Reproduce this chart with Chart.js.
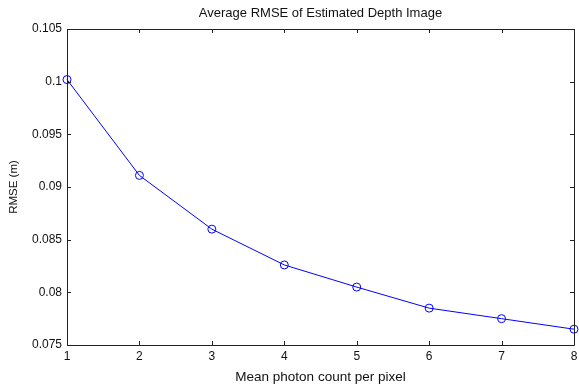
<!DOCTYPE html>
<html><head><meta charset="utf-8">
<script src="https://cdn.jsdelivr.net/npm/chart.js@4.4.1/dist/chart.umd.min.js"></script>
<style>html,body{margin:0;padding:0;background:#fff}#wrap{width:579px;height:385px}</style>
</head><body><div id="wrap"><canvas id="c" width="579" height="385"></canvas></div>
<script>
const photonCounts = [1, 2, 3, 4, 5, 6, 7, 8];
const rmseValues = [0.1002, 0.0911, 0.0860, 0.0826, 0.0805, 0.0785, 0.0775, 0.0765];
const yTickValues = [0.075, 0.08, 0.085, 0.09, 0.095, 0.1, 0.105];
const xTickValues = [1, 2, 3, 4, 5, 6, 7, 8];
const chartTitle = 'Average RMSE of Estimated Depth Image';
const xLabel = 'Mean photon count per pixel';
const yLabel = 'RMSE (m)';

const FONT = 'Liberation Sans, Arial, Helvetica, sans-serif';

const boxPlugin = {
  id: 'matlabBox',
  afterDatasetsDraw(chart) {
    const {ctx, chartArea: a, scales} = chart;
    ctx.save();
    ctx.strokeStyle = '#222';
    ctx.lineWidth = 1;
    ctx.beginPath();
    ctx.rect(Math.round(a.left) + 0.5, Math.round(a.top) + 0.5, Math.round(a.right - a.left), Math.round(a.bottom - a.top));
    ctx.stroke();
    const L = 4;
    ctx.beginPath();
    xTickValues.forEach(v => {
      const x = Math.round(scales.x.getPixelForValue(v)) + 0.5;
      ctx.moveTo(x, a.bottom); ctx.lineTo(x, a.bottom - L);
      ctx.moveTo(x, a.top); ctx.lineTo(x, a.top + L);
    });
    yTickValues.forEach(v => {
      const y = Math.round(scales.y.getPixelForValue(v)) + 0.5;
      ctx.moveTo(a.left, y); ctx.lineTo(a.left + L, y);
      ctx.moveTo(a.right, y); ctx.lineTo(a.right - L, y);
    });
    ctx.stroke();
    ctx.restore();
  }
};

new Chart(document.getElementById('c'), {
  type: 'line',
  data: {
    datasets: [{
      data: photonCounts.map((x, i) => ({x, y: rmseValues[i]})),
      borderColor: '#0000ff',
      borderWidth: 1,
      pointRadius: 4,
      pointHoverRadius: 4,
      pointBorderColor: '#0000ff',
      pointBackgroundColor: 'rgba(0,0,0,0)',
      pointBorderWidth: 1,
      tension: 0,
      clip: false
    }]
  },
  options: {
    responsive: false,
    animation: false,
    devicePixelRatio: 1,
    layout: {padding: {left: 0, right: 3, top: 0, bottom: 0}},
    plugins: {
      legend: {display: false},
      tooltip: {enabled: false},
      title: {
        display: true,
        fullSize: false,
        text: chartTitle,
        color: '#111',
        font: {family: FONT, size: 13, weight: 'normal', lineHeight: 1.2},
        padding: {top: 6, bottom: 7.4}
      }
    },
    scales: {
      x: {
        type: 'linear',
        min: 1, max: 8,
        afterBuildTicks: s => { s.ticks = xTickValues.map(v => ({value: v})); },
        afterFit: s => { s.height = 40; s.paddingLeft = 0; s.paddingRight = 0; },
        grid: {display: false, drawTicks: false},
        border: {display: false},
        ticks: {color: '#111', padding: 4, font: {family: FONT, size: 12}, callback: v => String(v), maxRotation: 0},
        title: {display: true, text: xLabel, color: '#111', font: {family: FONT, size: 13.5}, padding: {top: 1, bottom: 0}}
      },
      y: {
        type: 'linear',
        min: 0.075, max: 0.105,
        afterBuildTicks: s => { s.ticks = yTickValues.map(v => ({value: v})); },
        afterFit: s => { s.width = 67; s.paddingTop = 0; s.paddingBottom = 0; },
        grid: {display: false, drawTicks: false},
        border: {display: false},
        ticks: {color: '#111', padding: 5, font: {family: FONT, size: 12}, callback: v => String(parseFloat(v.toFixed(3)))},
        title: {display: true, text: yLabel, color: '#111', font: {family: FONT, size: 11.5}, padding: {top: 7, bottom: 0}}
      }
    }
  },
  plugins: [boxPlugin]
});
</script></body></html>
